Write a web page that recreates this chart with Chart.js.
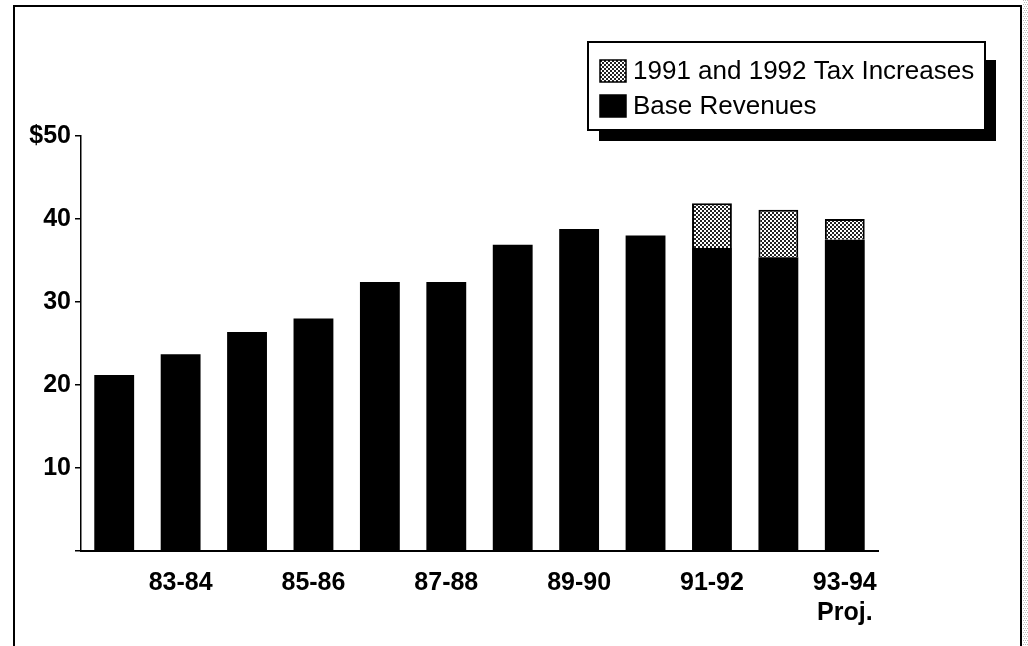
<!DOCTYPE html>
<html>
<head>
<meta charset="utf-8">
<style>
  html, body { margin: 0; padding: 0; background: #fff; }
  #wrap { position: relative; width: 1028px; height: 646px; }
  canvas { display: block; }
</style>
<script src="https://cdn.jsdelivr.net/npm/chart.js@4"></script>
</head>
<body>
<div id="wrap"><canvas id="c" width="1028" height="646"></canvas></div>
<script>
// Fiscal years
const years = ['82-83', '83-84', '84-85', '85-86', '86-87', '87-88',
               '88-89', '89-90', '90-91', '91-92', '92-93', '93-94'];
// Base revenues (billions of dollars)
const baseRevenues = [21.2, 23.7, 26.4, 28.0, 32.4, 32.4, 36.9, 38.8, 38.0, 36.5, 35.4, 37.5];
// Revenue from the 1991 and 1992 tax increases
const taxIncreases = [null, null, null, null, null, null, null, null, null, 5.4, 5.7, 2.5];
// Value axis ticks
const yTicks = [0, 10, 20, 30, 40, 50];
const yTickLabels = ['', '10', '20', '30', '40', '$50'];
const seriesNames = ['1991 and 1992 Tax Increases', 'Base Revenues'];

const FONT = '"Liberation Sans Narrow", "Liberation Sans", Arial, sans-serif';

// Halftone screen used for the tax-increase segments
function makeScreen() {
  const p = document.createElement('canvas');
  p.width = 4; p.height = 4;
  const g = p.getContext('2d');
  g.fillStyle = '#fff';
  g.fillRect(0, 0, 4, 4);
  g.fillStyle = '#222';
  g.fillRect(0, 0, 2, 2);
  g.fillRect(2, 2, 2, 2);
  return g.createPattern(p, 'repeat');
}
const ctx0 = document.getElementById('c').getContext('2d');
const screen = makeScreen();

// Page frame and the boxed legend with its drop shadow
const framePlugin = {
  id: 'frame',
  beforeDraw(chart) {
    const g = chart.ctx;
    g.save();
    g.fillStyle = '#fff';
    g.fillRect(0, 0, chart.width, chart.height);
    g.strokeStyle = '#000';
    g.lineWidth = 2;
    g.beginPath();
    g.moveTo(14, 646); g.lineTo(14, 6); g.lineTo(1021, 6); g.lineTo(1021, 646);
    g.stroke();
    // grainy strip along the right edge
    g.fillStyle = '#bbb';
    for (let y = 0; y < 646; y += 2) {
      for (let x = 1023; x < 1028; x += 2) {
        g.fillRect(x + (y % 4 ? 1 : 0), y, 1, 1);
      }
    }
    g.restore();
  },
  afterDraw(chart) {
    const g = chart.ctx;
    const bx = 588, by = 42, bw = 397, bh = 88, sh = 11;
    g.save();
    // shadow
    g.fillStyle = '#000';
    g.fillRect(bx + sh, by + bh, bw, sh);
    g.fillRect(bx + bw, by + 18, sh, bh - 18 + sh);
    // box
    g.fillStyle = '#fff';
    g.fillRect(bx, by, bw, bh);
    g.strokeStyle = '#000';
    g.lineWidth = 2;
    g.strokeRect(bx, by, bw, bh);
    // entries, read from the datasets
    const ds = chart.data.datasets;
    const entries = [ds[1], ds[0]];
    g.font = '26px "Liberation Sans", Arial, sans-serif';
    g.textBaseline = 'middle';
    entries.forEach((d, i) => {
      const cy = by + 29 + i * 35;
      g.fillStyle = d.backgroundColor;
      g.fillRect(600, cy - 11, 26, 22);
      g.lineWidth = 1.5;
      g.strokeStyle = '#000';
      g.strokeRect(600, cy - 11, 26, 22);
      g.fillStyle = '#000';
      g.fillText(d.label, 633, cy + 1);
    });
    g.restore();
  }
};

new Chart(ctx0, {
  type: 'bar',
  data: {
    labels: years,
    datasets: [
      {
        label: seriesNames[1],
        data: baseRevenues,
        backgroundColor: '#000',
        borderWidth: 0,
        categoryPercentage: 1,
        barPercentage: 0.6
      },
      {
        label: seriesNames[0],
        data: taxIncreases,
        backgroundColor: screen,
        borderColor: '#000',
        borderWidth: 2,
        borderSkipped: 'bottom',
        categoryPercentage: 1,
        barPercentage: 0.6
      }
    ]
  },
  options: {
    responsive: false,
    animation: false,
    layout: { padding: { left: 0, top: 136, right: 150, bottom: 0 } },
    plugins: { legend: { display: false }, tooltip: { enabled: false } },
    scales: {
      x: {
        stacked: true,
        afterFit(s) { s.height = 95; },
        grid: { display: false, drawTicks: false },
        border: { display: true, color: '#000', width: 2 },
        ticks: {
          autoSkip: false,
          maxRotation: 0,
          padding: 17,
          color: '#000',
          font: { family: FONT, size: 25, weight: 'bold', lineHeight: 1.2 },
          callback(v, i) {
            if (i % 2 === 0) return '';
            if (i === years.length - 1) return [years[i], 'Proj.'];
            return years[i];
          }
        }
      },
      y: {
        stacked: true,
        min: 0,
        max: 50,
        afterFit(s) { s.width = 81; },
        afterBuildTicks(s) { s.ticks = yTicks.map(v => ({ value: v })); },
        grid: { drawOnChartArea: false, drawTicks: true, tickLength: 6, color: '#000', lineWidth: 1.5 },
        border: { display: true, color: '#000', width: 1.5 },
        ticks: {
          padding: 4,
          color: '#000',
          font: { family: FONT, size: 25, weight: 'bold' },
          callback(v) { return yTickLabels[yTicks.indexOf(v)]; }
        }
      }
    }
  },
  plugins: [framePlugin]
});
</script>
</body>
</html>
